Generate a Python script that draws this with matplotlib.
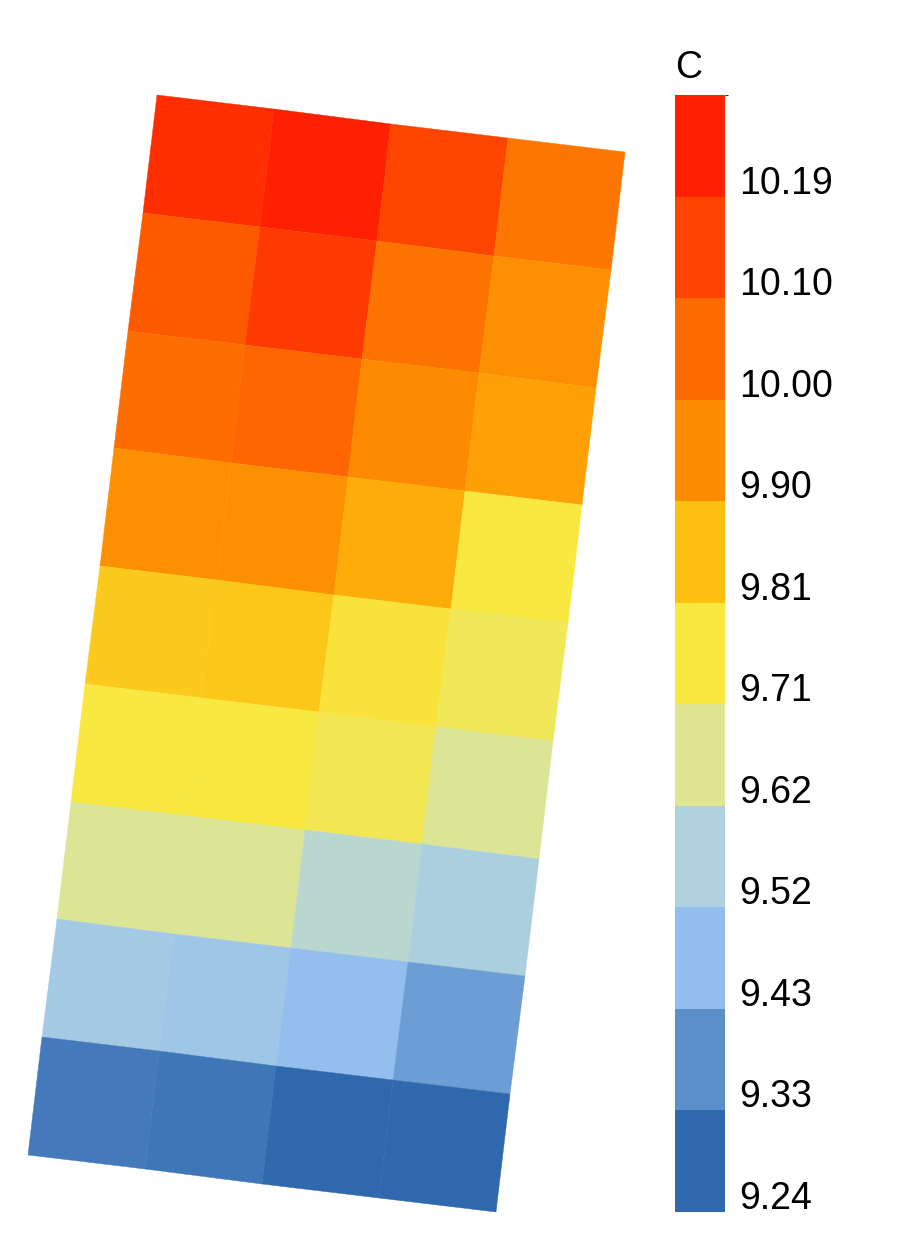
import numpy as np
import matplotlib.pyplot as plt
from matplotlib.colors import ListedColormap, BoundaryNorm, LinearSegmentedColormap, Normalize
from matplotlib.transforms import ScaledTranslation

plt.rcParams['font.family'] = ['Liberation Sans', 'DejaVu Sans']

# cell values, top row first, 4 columns
values = np.array([
    [10.20, 10.26, 10.14, 10.01],
    [10.09, 10.17, 10.02, 9.94],
    [10.04, 10.06, 9.95, 9.91],
    [9.94, 9.94, 9.89, 9.76],
    [9.83, 9.84, 9.77, 9.73],
    [9.76, 9.76, 9.74, 9.66],
    [9.66, 9.66, 9.59, 9.56],
    [9.53, 9.52, 9.48, 9.41],
    [9.33, 9.32, 9.28, 9.26],
])
levels = [9.24, 9.33, 9.43, 9.52, 9.62, 9.71, 9.81, 9.90, 10.00, 10.10, 10.19, 10.29]
tick_labels = ["9.24", "9.33", "9.43", "9.52", "9.62", "9.71", "9.81", "9.90", "10.00", "10.10", "10.19"]
colors = ["#3068ae", "#5b8fca", "#92bdee", "#b0d2de", "#dfe590", "#f8e840",
          "#fdc010", "#fd8b00", "#fd6a00", "#fe4400", "#fe2000"]

# discrete scale for the colorbar, smooth one through bin centres for the cells
cmap = ListedColormap(colors)
norm = BoundaryNorm(levels, cmap.N)
centres = [(a + b) / 2 for a, b in zip(levels[:-1], levels[1:])]
span = (centres[0], centres[-1])
smooth = LinearSegmentedColormap.from_list(
    "smooth", [((c - span[0]) / (span[1] - span[0]), col) for c, col in zip(centres, colors)])

fig = plt.figure(figsize=(9.09, 12.52), dpi=100)
ax = fig.add_axes([0, 0, 1, 1])
ax.set_xlim(0, 909)
ax.set_ylim(1252, 0)
ax.axis("off")

# parallelogram grid in pixel space
tl = np.array([157.0, 95.0]); tr = np.array([625.0, 152.0]); bl = np.array([28.0, 1155.0])
nrows, ncols = values.shape
u = np.linspace(0, 1, ncols + 1)
v = np.linspace(0, 1, nrows + 1)
U, V = np.meshgrid(u, v)
X = tl[0] + U * (tr[0] - tl[0]) + V * (bl[0] - tl[0])
Y = tl[1] + U * (tr[1] - tl[1]) + V * (bl[1] - tl[1])
ax.pcolormesh(X, Y, values, cmap=smooth, norm=Normalize(*span), shading="flat",
              antialiased=True, edgecolors="face", linewidth=0.3)

cax = fig.add_axes([675 / 909, 40 / 1252, 50 / 909, 1117 / 1252])
sm = plt.cm.ScalarMappable(cmap=cmap, norm=norm)
cb = fig.colorbar(sm, cax=cax, ticks=levels[:-1])
cb.set_ticklabels(tick_labels)
cb.outline.set_visible(False)
cax.tick_params(length=0, labelsize=27, pad=10)
for lab in cax.get_yticklabels():
    lab.set_transform(lab.get_transform() + ScaledTranslation(0, 0.17, fig.dpi_scale_trans))
cax.set_title("C", fontsize=27, loc="left", pad=12)

fig.savefig("out.png", dpi=100)
